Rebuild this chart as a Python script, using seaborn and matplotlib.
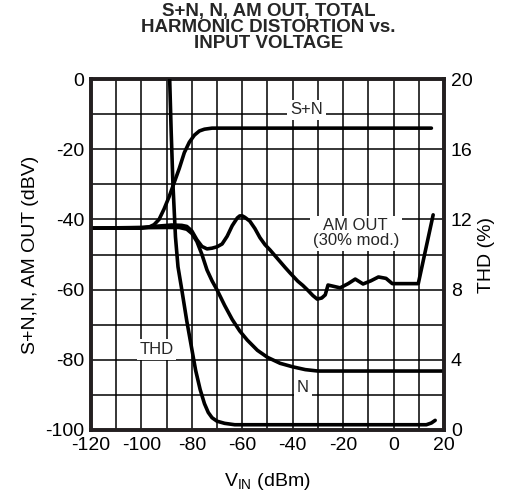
import numpy as np
import pandas as pd
import seaborn as sns
import matplotlib.pyplot as plt

# Curves (VIN in dBm)
sn_vin = [-120, -100, -97, -95, -93, -91, -89, -87, -85, -83, -81, -79, -77, -75, -72, -60, 15]
sn_dbv = [-42.5, -42.5, -42.2, -41.5, -40, -37, -33.5, -29.5, -25.5, -21, -18, -16, -14.8, -14.3, -14, -14, -14]

n_vin = [-120, -90, -85, -82, -80, -78, -76, -74, -72, -70, -67, -64, -61, -58, -54, -50, -45, -40, -35, -30, 20]
n_dbv = [-42.5, -42.3, -42.3, -42.8, -44, -46.3, -50, -54.4, -57.5, -60.1, -64.5, -68.5, -71.8, -74.4, -77.3, -79.3, -81, -82, -82.8, -83.2, -83.2]

am_vin = [-120, -100, -95, -88, -84, -82, -80, -78, -76, -74, -72, -70, -68, -66, -64, -62, -61, -60,
          -59, -57, -55, -53, -51, -49, -46, -43, -41, -38, -36, -34, -32, -30.3, -28.5, -27.1, -26,
          -21.2, -18, -15.2, -12.1, -9, -6, -3, -0.5, 9.8, 15.7]
am_dbv = [-42.5, -42.3, -42, -41.6, -41.7, -42, -43.3, -45.8, -47.7, -48.4, -48.2, -47.8, -47, -44.8,
          -41.8, -39.6, -39, -39, -39.4, -40.5, -42.6, -45.2, -47.2, -48.7, -51.2, -53.7, -55.3, -57.6,
          -58.8, -60.2, -61.7, -62.7, -62.4, -61.5, -58.7, -59.5, -58.3, -57, -58.4, -57.5, -56.4,
          -56.8, -58.3, -58.3, -38.7]

thd_vin = [-88.8, -88.2, -87.5, -86.5, -85.5, -84, -82, -80, -78.5, -76.7, -75, -73.5, -72, -70, -67, -63, 13, 15, 16.5]
thd_pct = [20, 17, 14, 11, 9.3, 8, 6.2, 4.6, 3.4, 2.3, 1.5, 1.0, 0.7, 0.5, 0.38, 0.3, 0.3, 0.4, 0.55]

x_ticks = [-120, -100, -80, -60, -40, -20, 0, 20]
y_ticks = [-100, -80, -60, -40, -20, 0]
thd_ticks = [0, 4, 8, 12, 16, 20]

sns.set_style("white")
plt.rcParams['font.family'] = ['Liberation Sans', 'DejaVu Sans']
plt.rcParams['mathtext.fontset'] = 'custom'
plt.rcParams['mathtext.rm'] = 'Liberation Sans'
plt.rcParams['axes.unicode_minus'] = False

fig = plt.figure(figsize=(5.06, 5.01), dpi=100)
ax = fig.add_axes([91 / 506, 1 - 430 / 501, 353 / 506, 351 / 501])
ax2 = ax.twinx()

lw = 2.6
sns.lineplot(x=sn_vin, y=sn_dbv, ax=ax, color='black', lw=lw, sort=False, zorder=3)
sns.lineplot(x=n_vin, y=n_dbv, ax=ax, color='black', lw=lw, sort=False, zorder=3)
sns.lineplot(x=am_vin, y=am_dbv, ax=ax, color='black', lw=lw, sort=False, zorder=3)
sns.lineplot(x=thd_vin, y=thd_pct, ax=ax2, color='black', lw=lw, sort=False, zorder=3)

ax.set_xlim(-120, 20)
ax.set_ylim(-100, 0)
ax2.set_ylim(0, 20)
ax.set_xticks(x_ticks)
ax.set_xticks(np.arange(-110, 20, 20), minor=True)
ax.set_yticks(y_ticks)
ax.set_yticks(np.arange(-90, 0, 20), minor=True)
ax2.set_yticks(thd_ticks)
ax.grid(True, which='both', color='black', lw=1.1)
ax.set_axisbelow(True)
ax2.grid(False)

fs = 14
ax.tick_params(which='both', length=0, labelsize=fs, pad=5, labelcolor='black')
ax2.tick_params(which='both', length=0, labelsize=fs, pad=5, labelcolor='black')

for a in (ax, ax2):
    for s in a.spines.values():
        s.set_linewidth(2.6)
        s.set_color('#231f20')

ax.set_xlabel(r'V$_{\mathregular{IN}}$ (dBm)', fontsize=fs, labelpad=12, color='black')
ax.set_ylabel('S+N,N, AM OUT (dBV)', fontsize=fs, labelpad=4, color='black')
ax2.set_ylabel('THD (%)', fontsize=fs, labelpad=4, color='black')

box = dict(facecolor='white', edgecolor='none', pad=2)
ax.text(-34.5, -8.8, 'S+N', fontsize=12, ha='center', va='center', bbox=box, zorder=2)
ax.text(-15, -44, 'AM OUT\n(30% mod.)', fontsize=12, ha='center', va='center',
        linespacing=1.0, bbox=box, zorder=2)
ax.text(-94, -77, 'THD', fontsize=12, ha='center', va='center', bbox=box, zorder=2)
ax.text(-36, -88, 'N', fontsize=12, ha='center', va='center', bbox=box, zorder=2)

fig.text(0.531, 1 - 3 / 501, 'S+N, N, AM OUT, TOTAL\nHARMONIC DISTORTION vs.\nINPUT VOLTAGE',
         ha='center', va='top', fontsize=13.5, fontweight='bold', linespacing=0.92)

fig.savefig('out.png', dpi=100)
